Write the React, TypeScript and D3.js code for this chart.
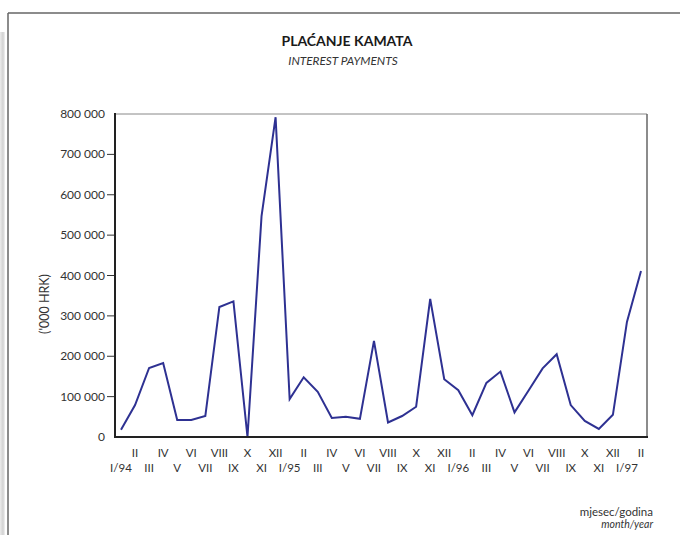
import React from "react";
import * as d3 from "d3";

const months = ["I/94","II","III","IV","V","VI","VII","VIII","IX","X","XI","XII",
  "I/95","II","III","IV","V","VI","VII","VIII","IX","X","XI","XII",
  "I/96","II","III","IV","V","VI","VII","VIII","IX","X","XI","XII",
  "I/97","II"];

const payments = [18000, 79000, 171000, 183000, 42000, 42000, 52000, 322000, 336000, 0,
  547000, 792000, 94000, 148000, 112000, 47000, 50000, 45000, 238000, 36000,
  52000, 75000, 342000, 143000, 116000, 54000, 134000, 162000, 61000, 115000,
  170000, 205000, 79000, 40000, 20000, 55000, 285000, 411000];

const yTicks = [0, 100000, 200000, 300000, 400000, 500000, 600000, 700000, 800000];

const title = "PLAĆANJE KAMATA";
const subtitle = "INTEREST PAYMENTS";
const yLabel = "('000 HRK)";
const xLabel = "mjesec/godina";
const xLabelEn = "month/year";

export default function App() {
  const W = 680, H = 535;
  const left = 115, right = 647, top = 114, bottom = 437;
  const x = d3.scaleLinear().domain([0, months.length - 1]).range([121, 641]);
  const y = d3.scaleLinear().domain([0, 800000]).range([bottom, top]);
  const fmt = d3.formatLocale({ decimal: ",", thousands: " ", grouping: [3], currency: ["", ""] }).format(",d");
  const line = d3.line<number>().x((_, i) => x(i)).y((d) => y(d));
  const font = "Lato, 'Open Sans', sans-serif";
  return (
    <svg width={W} height={H} style={{ position: "absolute", left: 0, top: 0, background: "#fff" }} fontFamily={font}>
      <defs>
        <linearGradient id="shade" x1="0" x2="1" y1="0" y2="0">
          <stop offset="0" stopColor="#ececec" />
          <stop offset="0.6" stopColor="#d2d2d2" />
          <stop offset="1" stopColor="#f2f2f2" />
        </linearGradient>
      </defs>
      <rect x={0} y={0} width={W} height={H} fill="#fff" />
      <rect x={0} y={32} width={5} height={H - 32} fill="url(#shade)" />
      <line x1={8} x2={W} y1={13} y2={13} stroke="#666" strokeWidth={1.5} />
      <line x1={8} x2={8} y1={13} y2={H} stroke="#666" strokeWidth={1.5} />
      <text x={347} y={46} textAnchor="middle" fontSize={14} fontWeight="bold" fill="#1a1a1a">{title}</text>
      <text x={343} y={64.5} textAnchor="middle" fontSize={11.8} fontStyle="italic" fill="#333">{subtitle}</text>
      <line x1={left} x2={right} y1={top} y2={top} stroke="#888" strokeWidth={1} />
      <line x1={right} x2={right} y1={top} y2={bottom} stroke="#666" strokeWidth={1.5} />
      {yTicks.map((t) => (
        <g key={t}>
          {t > 0 && t < 800000 && <line x1={107} x2={left} y1={y(t)} y2={y(t)} stroke="#333" strokeWidth={1} />}
          <text x={105} y={y(t) + 4} textAnchor="end" fontSize={12} fill="#333">{fmt(t)}</text>
        </g>
      ))}
      <text transform={`translate(49,304) rotate(-90)`} textAnchor="middle" fontSize={12.5} fill="#333">{yLabel}</text>
      {months.map((m, i) => (
        <text key={i} x={x(i)} y={i % 2 === 1 ? 457 : 472} textAnchor="middle" fontSize={11.5} fill="#333">{m}</text>
      ))}
      <path d={line(payments) || ""} fill="none" stroke="#2e3192" strokeWidth={2} strokeLinejoin="miter" />
      <line x1={left} x2={left} y1={top - 1} y2={bottom + 1} stroke="#222" strokeWidth={2} />
      <line x1={left - 1} x2={right + 1} y1={bottom} y2={bottom} stroke="#222" strokeWidth={2} />
      <text x={653} y={516} textAnchor="end" fontSize={11.5} fill="#333">{xLabel}</text>
      <text x={653} y={528} textAnchor="end" fontSize={10.5} fontStyle="italic" fill="#333">{xLabelEn}</text>
    </svg>
  );
}
